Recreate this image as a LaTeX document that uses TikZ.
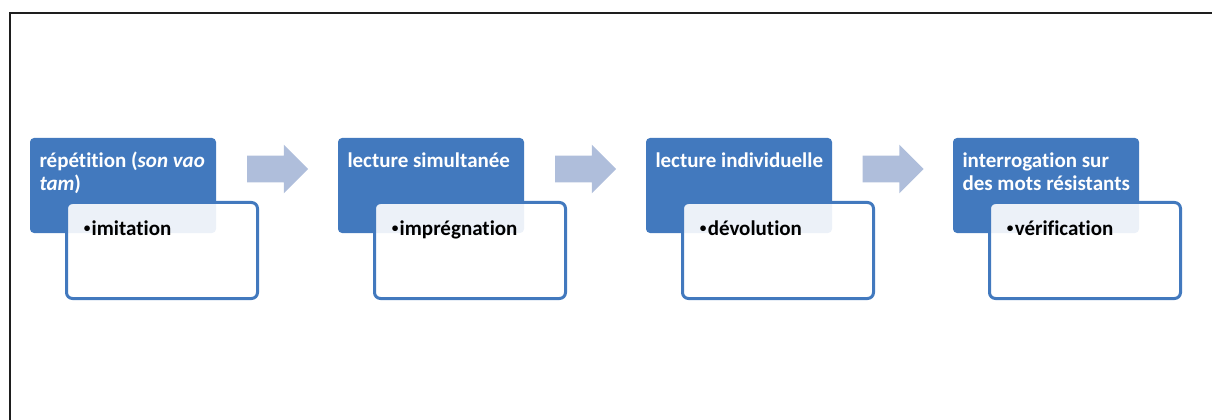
\documentclass[tikz,border=0pt]{standalone}
\usepackage{fontspec}
\setmainfont{Carlito}[Ligatures={NoCommon,NoRare}]
\usetikzlibrary{shapes.arrows,positioning,calc}
\definecolor{smartblue} {HTML}{4279BE}
\definecolor{arrowblue} {HTML}{AFBEDB}
\definecolor{framegray} {HTML}{1E1E1E}
\newcommand\diagfont{\fontsize{15.75}{17.25}\selectfont}
\newcommand\subbullet{\raisebox{1.6pt}{\fontsize{10}{10}\selectfont•}\kern1pt}

\begin{document}
\begin{tikzpicture}[
  head/.style={fill=smartblue,rounded corners=3pt,minimum width=139.5pt,
               minimum height=71.25pt,inner sep=0pt},
  sub/.style={draw=smartblue,line width=2.25pt,fill=white,fill opacity=0.9,
              rounded corners=4.5pt,minimum width=143.25pt,
              minimum height=72pt,inner sep=0pt},
  headtxt/.style={text=white,font=\diagfont\bfseries,align=left,
                  anchor=north west,inner sep=0pt},
  subtxt/.style={text=black,font=\diagfont\bfseries,anchor=base west,
                 inner sep=0pt},
  arrowstep/.style={single arrow,fill=arrowblue,minimum height=45.75pt,
                    single arrow head extend=8.25pt,
                    single arrow head indent=0pt,inner xsep=0pt,
                    inner ysep=9.75pt},
  x=0.75pt, y=-0.75pt
]
\useasboundingbox (0,0) rectangle (1212,420);
% --- cadre ---
\draw[framegray,line width=1.75pt] (10,421) -- (10,13) -- (1213,13);

% --- 4 etapes ---
\node[head] (head1) at (123, 185.5) {};
\node[head] (head2) at (431, 185.5) {};
\node[head] (head3) at (739, 185.5) {};
\node[head] (head4) at (1046,185.5) {};

\node[headtxt] (title1) at ($(head1.north west)+(9.5,13)$)
  {\strut répétition (\textit{son vao}\\\textit{tam})};
\node[headtxt] (title2) at ($(head2.north west)+(9.5,13)$)
  {\strut lecture simultanée};
\node[headtxt] (title3) at ($(head3.north west)+(9.5,13)$)
  {\strut lecture individuelle};
\node[headtxt] (title4) at ($(head4.north west)+(9.5,13)$)
  {\strut interrogation sur\\des mots résistants};

% --- sous-boites ---
\node[sub] (sub1) at ($(head1)+(39,65)$) {};
\node[sub] (sub2) at ($(head2)+(39,65)$) {};
\node[sub] (sub3) at ($(head3)+(39,65)$) {};
\node[sub] (sub4) at ($(head4)+(39,65)$) {};

\node[subtxt] (item1) at ($(sub1.north west)+(18.5,34)$) {\subbullet imitation};
\node[subtxt] (item2) at ($(sub2.north west)+(18.5,34)$) {\subbullet imprégnation};
\node[subtxt] (item3) at ($(sub3.north west)+(18.5,34)$) {\subbullet dévolution};
\node[subtxt] (item4) at ($(sub4.north west)+(18.5,34)$) {\subbullet vérification};

% --- fleches ---
\node[arrowstep] (arr1) at ($(head1.east)!.5!(head2.west)+(-6,-16.5)$) {};
\node[arrowstep] (arr2) at ($(head2.east)!.5!(head3.west)+(-6,-16.5)$) {};
\node[arrowstep] (arr3) at ($(head3.east)!.5!(head4.west)+(-6,-16.5)$) {};
\end{tikzpicture}
\end{document}
